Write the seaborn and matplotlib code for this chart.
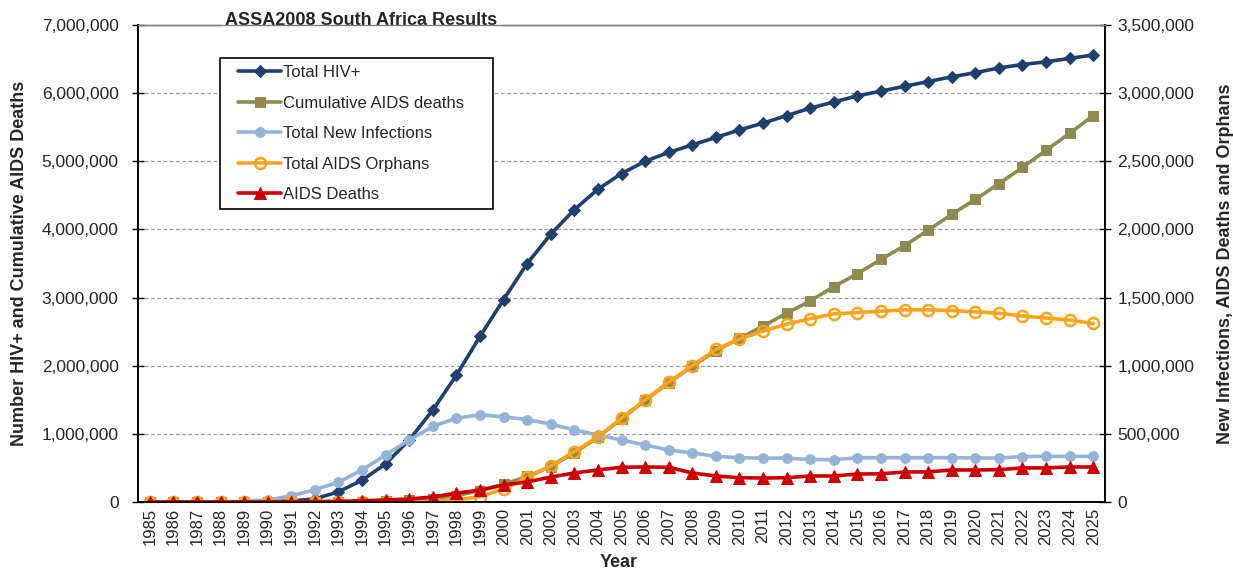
import numpy as np
import matplotlib
matplotlib.use('Agg')
import matplotlib.pyplot as plt
from matplotlib.patches import Rectangle
from matplotlib.ticker import FuncFormatter, MultipleLocator, FixedLocator
import seaborn as sns

# 数据
years = list(range(1985, 2026))

total_hiv = [0, 0, 0, 0, 0, 5000, 15000, 45000, 150000, 320000,
             560000, 910000, 1350000, 1860000, 2430000, 2970000, 3500000, 3930000, 4290000, 4590000,
             4820000, 5000000, 5130000, 5240000, 5350000, 5460000, 5560000, 5670000, 5780000, 5870000,
             5960000, 6030000, 6100000, 6170000, 6240000, 6300000, 6370000, 6420000, 6460000, 6510000,
             6560000]

cum_deaths = [0, 0, 0, 0, 0, 0, 1000, 2000, 4000, 7000,
              12000, 25000, 50000, 95000, 165000, 260000, 375000, 520000, 720000, 950000,
              1220000, 1490000, 1750000, 1990000, 2220000, 2400000, 2580000, 2770000, 2950000, 3160000,
              3350000, 3560000, 3760000, 3990000, 4220000, 4440000, 4670000, 4910000, 5160000, 5410000,
              5670000]

new_inf = [0, 0, 0, 1000, 5000, 15000, 45000, 90000, 145000, 235000,
           345000, 455000, 555000, 615000, 640000, 625000, 605000, 572000, 528000, 492000,
           455000, 418000, 382000, 360000, 335000, 325000, 322000, 322000, 312000, 310000,
           325000, 325000, 325000, 325000, 325000, 323000, 323000, 333000, 335000, 335000,
           335000]

orphans = [0, 0, 0, 0, 0, 0, 0, 0, 0, 0,
           0, 2000, 6000, 15000, 40000, 95000, 180000, 265000, 370000, 478000,
           615000, 750000, 880000, 1000000, 1120000, 1195000, 1255000, 1305000, 1345000, 1380000,
           1390000, 1400000, 1410000, 1410000, 1405000, 1395000, 1385000, 1365000, 1350000, 1335000,
           1310000]

aids_deaths = [0, 0, 0, 0, 0, 1000, 2000, 3000, 5000, 9000,
               15000, 22000, 37000, 65000, 88000, 125000, 147000, 183000, 213000, 235000,
               255000, 257000, 255000, 213000, 191000, 178000, 176000, 178000, 191000, 191000,
               205000, 207000, 220000, 221000, 235000, 235000, 237000, 250000, 250000, 257000,
               257000]

labels = ['Total HIV+', 'Cumulative AIDS deaths', 'Total New Infections',
          'Total AIDS Orphans', 'AIDS Deaths']

sns.set_style('white')
plt.rcParams['font.family'] = ['Liberation Sans', 'DejaVu Sans']

W, H = 1233, 571
fig = plt.figure(figsize=(W / 100, H / 100), dpi=100)
ax = fig.add_axes([138 / W, 1 - 502 / H, (1105 - 138) / W, (502 - 25) / H])
ax2 = ax.twinx()

lw = 2.6
# 左轴
sns.lineplot(x=years, y=total_hiv, ax=ax, color='#1F3F6F', marker='D', markersize=6.5,
             markeredgecolor='#1F3F6F', linewidth=lw, legend=False)
sns.lineplot(x=years, y=cum_deaths, ax=ax, color='#8F8B50', marker='s', markersize=7,
             markeredgecolor='#8F8B50', linewidth=lw, legend=False)
# 右轴
sns.lineplot(x=years, y=new_inf, ax=ax2, color='#95B3D7', marker='o', markersize=7,
             markeredgecolor='#95B3D7', linewidth=lw, legend=False)
sns.lineplot(x=years, y=orphans, ax=ax2, color='#FAA31B', marker='o', markersize=8,
             markerfacecolor='none', markeredgecolor='#FAA31B', markeredgewidth=1.8,
             linewidth=lw, legend=False)
sns.lineplot(x=years, y=aids_deaths, ax=ax2, color='#CC0000', marker='^', markersize=8.5,
             markeredgecolor='#CC0000', linewidth=lw, legend=False)

fmt = FuncFormatter(lambda v, p: f'{int(v):,}')

ax.set_xlim(1984.5, 2025.5)
ax.set_ylim(0, 7000000)
ax2.set_ylim(0, 3500000)
ax.yaxis.set_major_locator(MultipleLocator(1000000))
ax2.yaxis.set_major_locator(MultipleLocator(500000))
ax.yaxis.set_major_formatter(fmt)
ax2.yaxis.set_major_formatter(fmt)

ax.set_xticks(years)
ax.set_xticklabels([str(y) for y in years], rotation=90)
ax.xaxis.set_minor_locator(FixedLocator(np.arange(1984.5, 2026, 1.0)))
ax.tick_params(axis='x', which='major', length=0, labelsize=12, pad=4)
ax.tick_params(axis='x', which='minor', direction='inout', length=8, width=1, color='black')
ax.tick_params(axis='y', direction='inout', length=8, width=1, color='black', labelsize=12.5, pad=10)
ax2.tick_params(axis='y', direction='inout', length=8, width=1, color='black', labelsize=12.5, pad=5)

ax.grid(axis='y', linestyle=(0, (3, 2)), color='#9A9A9A', linewidth=0.9)
ax.grid(axis='x', visible=False)

for a in (ax, ax2):
    for side in ('left', 'right', 'bottom'):
        a.spines[side].set_color('black')
        a.spines[side].set_linewidth(1.2)
    a.spines['top'].set_color('#808080')
    a.spines['top'].set_linewidth(1.0)

ax.set_xlabel('Year', fontsize=13, fontweight='bold')
ax.xaxis.set_label_coords(0.497, -0.109)
ax.set_ylabel('Number HIV+ and Cumulative AIDS Deaths', fontsize=13, fontweight='bold')
ax.yaxis.set_label_coords(-0.114, 0.5)
ax2.set_ylabel('New Infections, AIDS Deaths and Orphans', fontsize=13, fontweight='bold')
ax2.yaxis.set_label_coords(1.116, 0.5)

ax.text(0.231, 1.01, 'ASSA2008 South Africa Results', transform=ax.transAxes,
        ha='center', va='center', fontsize=13, fontweight='bold',
        bbox=dict(facecolor='white', edgecolor='none', pad=3), zorder=10)

# 图例: 手动画边框
fig.patches.append(Rectangle((220 / W, 1 - 209 / H), (493 - 220) / W, (209 - 58) / H,
                             transform=fig.transFigure, facecolor='white', edgecolor='black',
                             linewidth=1.2, zorder=5))
handles = ax.lines + ax2.lines
leg = fig.legend(handles, labels, loc='upper left', bbox_to_anchor=(238 / W, 1 - 65 / H),
                 fontsize=12, frameon=False, handlelength=2.6, handletextpad=0.1,
                 labelspacing=0.93, borderpad=0, borderaxespad=0)
leg.set_zorder(6)

fig.savefig('out.png', dpi=100)
